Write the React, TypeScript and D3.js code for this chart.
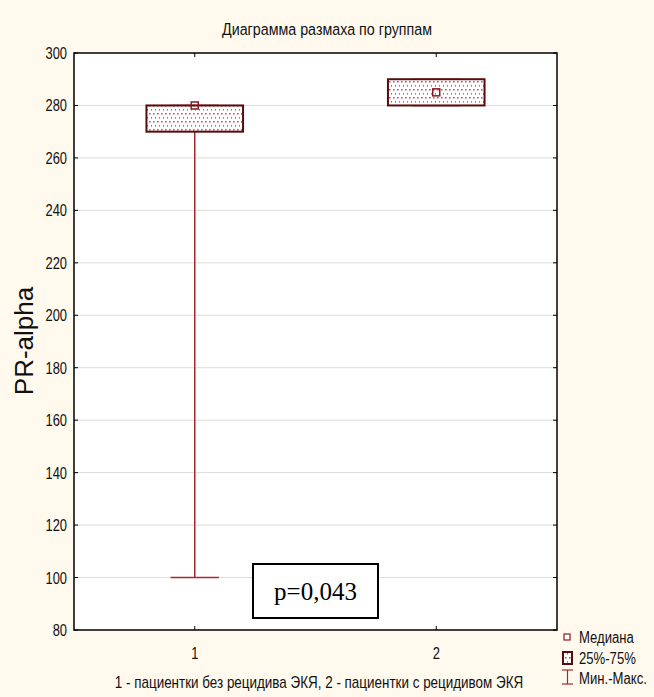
import React from "react";
import * as d3 from "d3";

// Box-plot summary per group
const groups = ["1", "2"];
const groupIndex = [1, 2];
const mins = [100, 280];
const q1s = [270, 280];
const medians = [280, 285];
const q3s = [280, 290];
const maxs = [280, 290];

const yTicks = [80, 100, 120, 140, 160, 180, 200, 220, 240, 260, 280, 300];

const title = "Диаграмма размаха по группам";
const yTitle = "PR-alpha";
const xTitle = "1 - пациентки без рецидива ЭКЯ, 2 - пациентки с рецидивом ЭКЯ";
const pLabel = "p=0,043";
const legendLabels = ["Медиана", "25%-75%", "Мин.-Макс."];

const W = 654;
const H = 697;
const plot = { left: 74, right: 557, top: 53, bottom: 630 };

const sans = "'Liberation Sans', Arial, sans-serif";

// Condensed text: regular sans squeezed horizontally
function NarrowText({
  x,
  y,
  size,
  anchor = "start",
  squeeze = 0.82,
  children,
}: {
  x: number;
  y: number;
  size: number;
  anchor?: string;
  squeeze?: number;
  children: React.ReactNode;
}) {
  return (
    <text
      transform={`translate(${x},${y}) scale(${squeeze},1)`}
      textAnchor={anchor}
      fontSize={size}
      fontFamily={sans}
      fill="#111"
    >
      {children}
    </text>
  );
}

export default function App() {
  const x = d3.scaleLinear().domain([0.5, 2.5]).range([plot.left, plot.right]);
  const y = d3.scaleLinear().domain([80, 300]).range([plot.bottom, plot.top]);
  const boxW = x(0.4) - x(0);
  const capW = x(0.2) - x(0);

  const boxStroke = "#5a0c0c";
  const whiskerStroke = "#a8282e";
  const medianStroke = "#8e1a22";

  return (
    <svg width={W} height={H} style={{ position: "absolute", left: 0, top: 0, display: "block" }}>
      <defs>
        <pattern id="dots" width={4} height={8} patternUnits="userSpaceOnUse">
          <rect width={4} height={8} fill="#ffffff" />
          <rect x={1} y={1} width={1.6} height={1.6} fill="#cc5866" />
          <rect x={3} y={5} width={1.6} height={1.6} fill="#cc5866" />
        </pattern>
      </defs>
      <rect x={0} y={0} width={W} height={H} fill="#fff9ee" />
      <rect x={plot.left} y={plot.top} width={plot.right - plot.left} height={plot.bottom - plot.top} fill="#ffffff" />

      {/* horizontal grid */}
      {yTicks.slice(1, -1).map((t) => (
        <line key={"g" + t} x1={plot.left} x2={plot.right} y1={y(t)} y2={y(t)} stroke="#dcdcdc" strokeWidth={1} />
      ))}

      <NarrowText x={327} y={35} size={17} anchor="middle" squeeze={0.84}>
        {title}
      </NarrowText>

      {/* y ticks and labels */}
      {yTicks.map((t) => (
        <g key={"t" + t}>
          <line x1={plot.left} x2={plot.left + 4} y1={y(t)} y2={y(t)} stroke="#000" />
          <line x1={plot.right} x2={plot.right - 4} y1={y(t)} y2={y(t)} stroke="#000" />
          <NarrowText x={plot.left - 7} y={y(t) + 6} size={17} anchor="end" squeeze={0.76}>
            {t}
          </NarrowText>
        </g>
      ))}

      {/* x ticks and labels */}
      {groupIndex.map((g, i) => (
        <g key={"x" + g}>
          <line x1={x(g)} x2={x(g)} y1={plot.bottom} y2={plot.bottom - 4} stroke="#000" />
          <line x1={x(g)} x2={x(g)} y1={plot.top} y2={plot.top + 4} stroke="#000" />
          <NarrowText x={x(g)} y={659} size={17} anchor="middle" squeeze={0.76}>
            {groups[i]}
          </NarrowText>
        </g>
      ))}

      <NarrowText x={319} y={688} size={16} anchor="middle" squeeze={0.84}>
        {xTitle}
      </NarrowText>

      <text
        transform={`translate(33, ${341}) rotate(-90)`}
        textAnchor="middle"
        fontSize={26}
        fontFamily={sans}
        fill="#111"
      >
        {yTitle}
      </text>

      {/* boxes */}
      {groupIndex.map((g, i) => {
        const cx = x(g);
        return (
          <g key={"b" + g}>
            <line x1={cx} x2={cx} y1={y(mins[i])} y2={y(maxs[i])} stroke={whiskerStroke} strokeWidth={1.5} />
            <line x1={cx - capW / 2} x2={cx + capW / 2} y1={y(mins[i])} y2={y(mins[i])} stroke={whiskerStroke} strokeWidth={1.5} />
            <line x1={cx - capW / 2} x2={cx + capW / 2} y1={y(maxs[i])} y2={y(maxs[i])} stroke={whiskerStroke} strokeWidth={1.5} />
            <rect
              x={cx - boxW / 2}
              y={y(q3s[i])}
              width={boxW}
              height={y(q1s[i]) - y(q3s[i])}
              fill="url(#dots)"
              stroke={boxStroke}
              strokeWidth={2}
            />
            <rect x={cx - 3.5} y={y(medians[i]) - 3.5} width={7} height={7} fill="none" stroke={medianStroke} strokeWidth={1.5} />
          </g>
        );
      })}

      {/* frame */}
      <rect
        x={plot.left}
        y={plot.top}
        width={plot.right - plot.left}
        height={plot.bottom - plot.top}
        fill="none"
        stroke="#000"
        strokeWidth={1.5}
      />

      {/* p-value box */}
      <rect x={253} y={564} width={125} height={54} fill="#ffffff" stroke="#000" strokeWidth={2} />
      <text x={315.5} y={600} textAnchor="middle" fontSize={25} fontFamily="'Liberation Serif', 'Times New Roman', serif" fill="#000">
        {pLabel}
      </text>

      {/* legend */}
      <g>
        <rect x={564} y={634} width={6} height={6} fill="#fff" stroke={medianStroke} strokeWidth={1.2} />
        <NarrowText x={579} y={643} size={16} squeeze={0.82}>{legendLabels[0]}</NarrowText>
        <rect x={563} y={652} width={9} height={12} fill="url(#dots)" stroke={boxStroke} strokeWidth={2} />
        <NarrowText x={579} y={664} size={16} squeeze={0.82}>{legendLabels[1]}</NarrowText>
        <line x1={567.5} x2={567.5} y1={670} y2={684} stroke={whiskerStroke} strokeWidth={1.2} />
        <line x1={562} x2={573} y1={670} y2={670} stroke={whiskerStroke} strokeWidth={1.2} />
        <line x1={562} x2={573} y1={684} y2={684} stroke={whiskerStroke} strokeWidth={1.2} />
        <NarrowText x={579} y={684} size={16} squeeze={0.82}>{legendLabels[2]}</NarrowText>
      </g>
    </svg>
  );
}
